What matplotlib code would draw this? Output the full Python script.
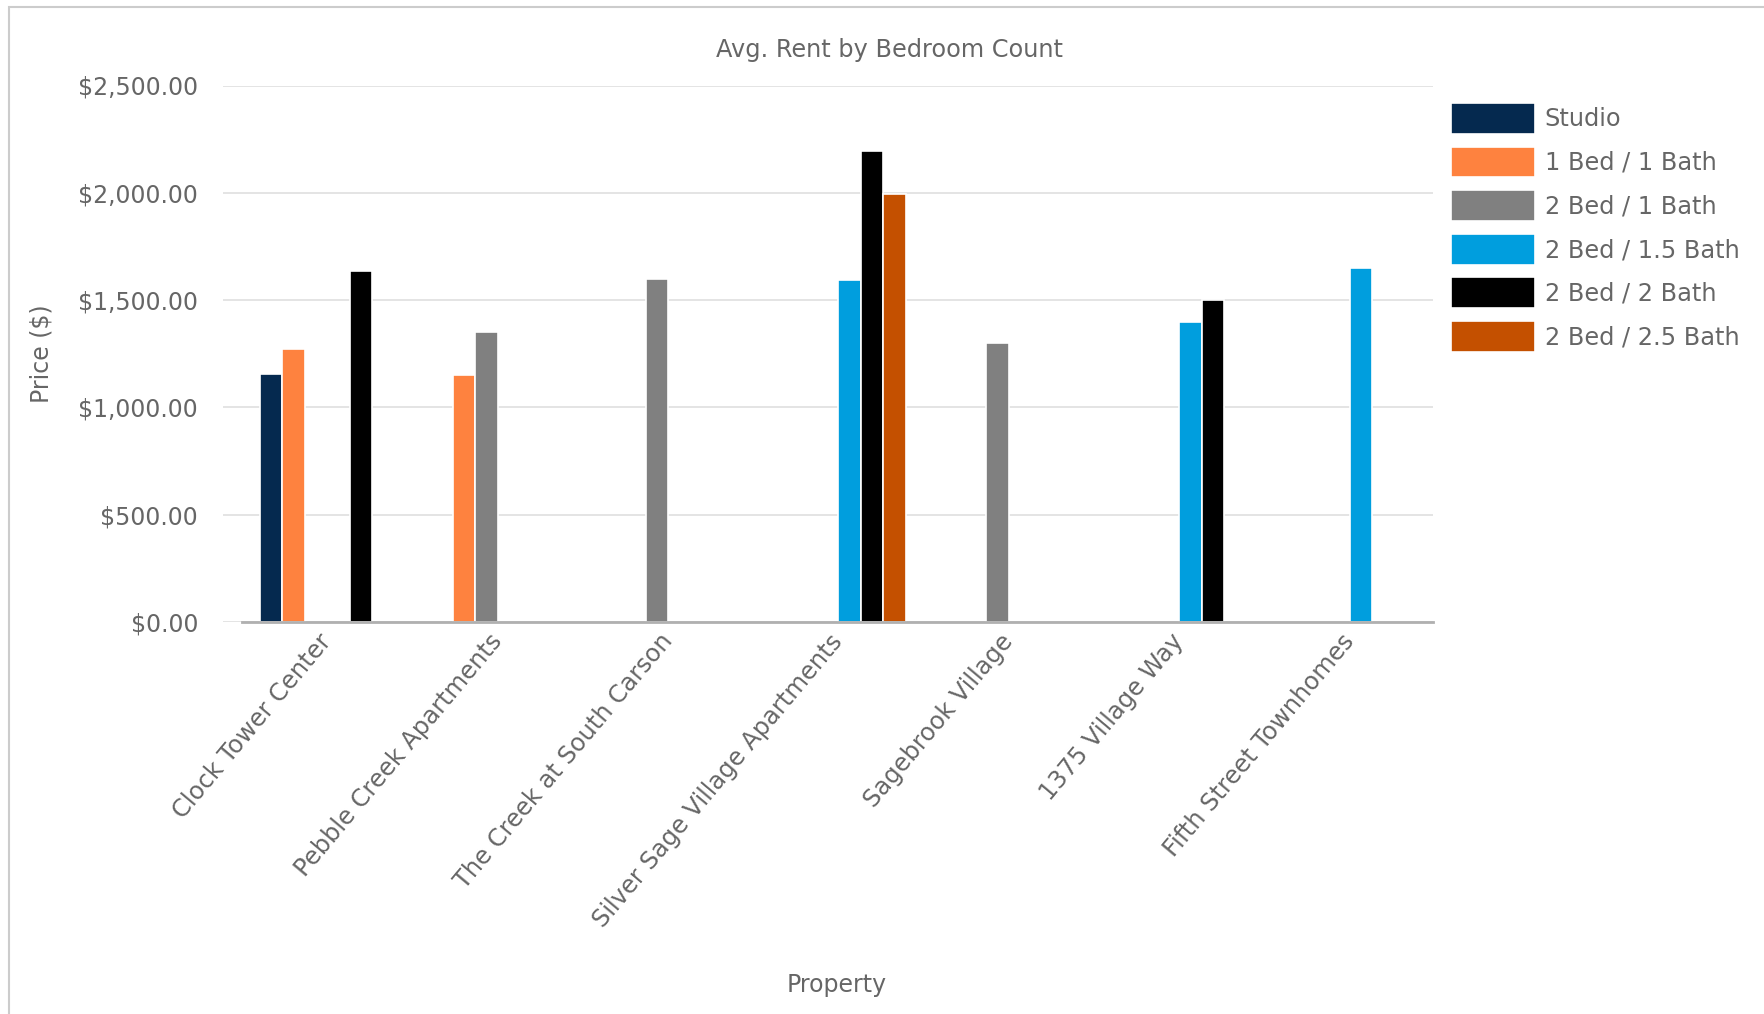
import numpy as np
import matplotlib
matplotlib.use("Agg")
import matplotlib.pyplot as plt
from matplotlib.patches import Rectangle
from matplotlib.ticker import FuncFormatter

properties = ["Clock Tower Center", "Pebble Creek Apartments", "The Creek at South Carson",
              "Silver Sage Village Apartments", "Sagebrook Village", "1375 Village Way",
              "Fifth Street Townhomes"]
series = ["Studio", "1 Bed / 1 Bath", "2 Bed / 1 Bath", "2 Bed / 1.5 Bath",
          "2 Bed / 2 Bath", "2 Bed / 2.5 Bath"]
nan = np.nan
studio = [1155, nan, nan, nan, nan, nan, nan]
bed1_bath1 = [1270, 1150, nan, nan, nan, nan, nan]
bed2_bath1 = [nan, 1350, 1600, nan, 1300, nan, nan]
bed2_bath15 = [nan, nan, nan, 1595, nan, 1400, 1650]
bed2_bath2 = [1635, nan, nan, 2195, nan, 1500, nan]
bed2_bath25 = [nan, nan, nan, 1995, nan, nan, nan]
values = [studio, bed1_bath1, bed2_bath1, bed2_bath15, bed2_bath2, bed2_bath25]
colors = ["#05294f", "#fe823f", "#808080", "#009ede", "#000000", "#c45000"]

txt = "#666666"
fig = plt.figure(figsize=(17.64, 10.14), dpi=100)
fig.patches.append(Rectangle((9/1764, -0.1), 1.2, 1 - 7/1014 + 0.1, transform=fig.transFigure,
                             fill=False, edgecolor="#cccccc", linewidth=1.5))
ax = fig.add_axes([223/1764, 1 - 622/1014, (1433 - 223)/1764, (622 - 85.5)/1014])

x = np.arange(len(properties))
slot = 0.132
for i, (name, vals, c) in enumerate(zip(series, values, colors)):
    ax.bar(x + (i - 2.5) * slot, vals, width=slot, color=c, edgecolor="white",
           linewidth=1.2, label=name, zorder=3)

ax.set_xlim(-0.612, 6.49)
ax.set_ylim(0, 2500)
ax.set_yticks([0, 500, 1000, 1500, 2000, 2500])
ax.yaxis.set_major_formatter(FuncFormatter(lambda v, p: "${:,.2f}".format(v)))
ax.grid(axis="y", color="#e2e2e2", linewidth=1.3, zorder=0)
ax.plot([-0.5, 6.49], [0, 0], color="#b0b0b0", linewidth=2, zorder=4, clip_on=False)
for s in ax.spines.values():
    s.set_visible(False)
ax.tick_params(axis="both", length=0, colors=txt, labelsize=17)
ax.tick_params(axis="y", pad=18)
ax.set_xticks(x)
ax.set_xticklabels(properties, rotation=50, ha="right", va="center", rotation_mode="anchor",
                   fontsize=17.4)
ax.tick_params(axis="x", pad=11)

fig.text(890/1764, 1 - 50/1014, "Avg. Rent by Bedroom Count", color=txt, fontsize=17.3,
         ha="center", va="center")
ax.set_ylabel("Price ($)", color=txt, fontsize=17, labelpad=17.5)
fig.text(837/1764, 1 - 985/1014, "Property", color=txt, fontsize=17, ha="center", va="center")

leg = ax.legend(loc="upper left", bbox_to_anchor=(1451/1764, 1 - 103/1014),
                bbox_transform=fig.transFigure, frameon=False, fontsize=17.3,
                handlelength=3.5, handleheight=1.6, labelspacing=0.53,
                handletextpad=0.4, borderaxespad=0, borderpad=0)
for t in leg.get_texts():
    t.set_color(txt)

fig.savefig("out.png", dpi=100)
